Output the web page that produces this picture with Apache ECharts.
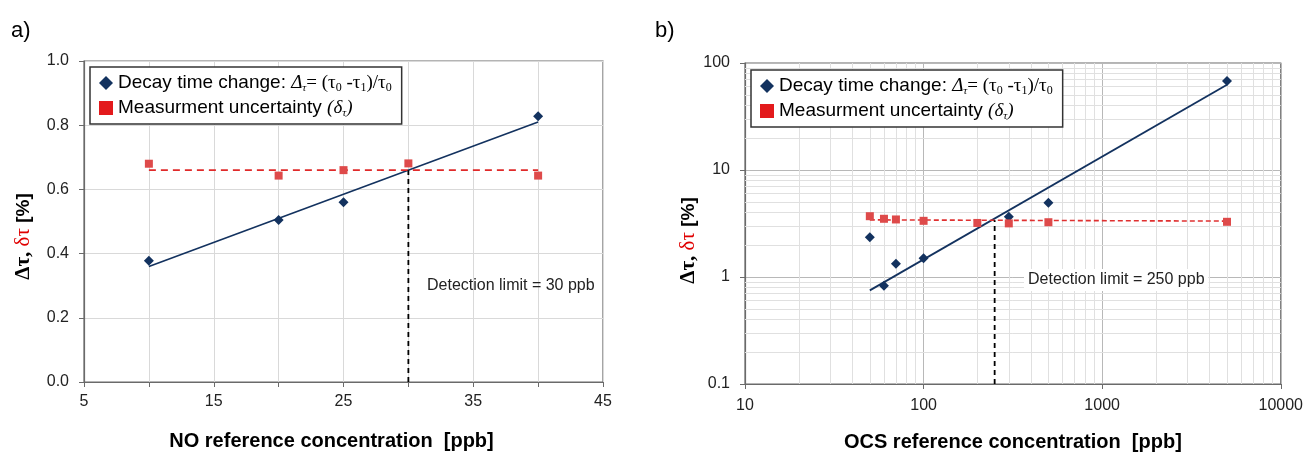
<!DOCTYPE html>
<html><head><meta charset="utf-8">
<script src="https://cdn.jsdelivr.net/npm/echarts@6/dist/echarts.min.js"></script>
<style>html,body{margin:0;padding:0;background:#fff}#c{width:1306px;height:457px}</style>
</head><body><div id="c"></div>
<script>
// ---------- data: panel a) NO ----------
const noDecayConc = [10, 20, 25, 40];
const noDecay = [0.378, 0.505, 0.56, 0.828];
const noUncConc = [10, 20, 25, 30, 40];
const noUnc = [0.68, 0.643, 0.66, 0.681, 0.643];
const noFitConc = [10, 40];
const noFitDecay = [0.36, 0.81];
const noUncMeanConc = [10, 40];
const noUncMean = [0.66, 0.66];
const noLimitConc = [30, 30];
const noLimitLevel = [0, 0.66];
const noXTicks = [5, 15, 25, 35, 45];

// ---------- data: panel b) OCS ----------
const ocsDecayConc = [50, 60, 70, 100, 300, 500, 5000];
const ocsDecay = [2.35, 0.83, 1.33, 1.5, 3.65, 4.95, 68];
const ocsUncConc = [50, 60, 70, 100, 200, 300, 500, 5000];
const ocsUnc = [3.7, 3.5, 3.45, 3.35, 3.2, 3.17, 3.25, 3.28];
const ocsFitConc = [50, 5000];
const ocsFitDecay = [0.75, 62.5];
const ocsUncMeanConc = [50, 5000];
const ocsUncMean = [3.42, 3.33];
const ocsLimitConc = [250, 250];
const ocsLimitLevel = [0.1, 3.4];
const ocsMinorX = [20,30,40,50,60,70,80,90,200,300,400,500,600,700,800,900,2000,3000,4000,5000,6000,7000,8000,9000];
const ocsMinorY = [0.2,0.3,0.4,0.5,0.6,0.7,0.8,0.9,2,3,4,5,6,7,8,9,20,30,40,50,60,70,80,90];

const zip = (xs, ys) => xs.map((x, i) => [x, ys[i]]);

const SANS = "'Liberation Sans', Arial, sans-serif";
const SERIF = "'Liberation Serif', 'Times New Roman', serif";
const NAVY = '#13325f';
const RED = '#de4a4a';
const LEGRED = '#e31a1c';
const FRAME = '#6a6a6a';
const GRID = '#d9d9d9';

const chart = echarts.init(document.getElementById('c'), null, {renderer: 'canvas'});

const legendRich = {
  m: {fontFamily: SERIF, fontStyle: 'italic', fontSize: 19, color: '#000'},
  ms: {fontFamily: SERIF, fontStyle: 'italic', fontSize: 11, color: '#000', verticalAlign: 'bottom', lineHeight: 22},
  s: {fontFamily: SERIF, fontSize: 19, color: '#000'},
  sb: {fontFamily: SERIF, fontSize: 12, color: '#000', verticalAlign: 'bottom', lineHeight: 22}
};
function legendFmt(name) {
  if (name === 'Decay time change') {
    return 'Decay time change: {m|Δ}{ms|τ}{s|= (τ}{sb|0}{s| -τ}{sb|1}{s|)/τ}{sb|0}';
  }
  return 'Measurment uncertainty {m|(δ}{ms|τ}{m|)}';
}
function makeLegend(left, top) {
  return {
    left: left, top: top, orient: 'vertical', z: 8,
    selectedMode: false,
    backgroundColor: '#fff',
    borderColor: '#333', borderWidth: 1.5,
    padding: [5, 10, 5, 9],
    itemGap: 3, itemWidth: 14, itemHeight: 14,
    textStyle: {fontFamily: SANS, fontSize: 19, color: '#000', rich: legendRich, lineHeight: 22},
    formatter: legendFmt,
    data: [
      {name: 'Decay time change', icon: 'diamond', itemStyle: {color: NAVY, opacity: 1}},
      {name: 'Measurment uncertainty', icon: 'rect', itemStyle: {color: LEGRED, opacity: 1}}
    ]
  };
}
const yNameRich = {
  a: {fontFamily: SERIF, fontWeight: 'bold', fontSize: 21, color: '#000'},
  r: {fontFamily: SERIF, fontSize: 21, color: '#e00000'},
  p: {fontFamily: SANS, fontWeight: 'bold', fontSize: 19, color: '#000'}
};
const yName = '{a|Δτ, }{r|δτ}{p| [%]}';

const option = {
  animation: false,
  backgroundColor: '#fff',
  graphic: [
    {type: 'text', left: 11, top: 20, style: {text: 'a)', fontFamily: SANS, fontSize: 22, fill: '#000'}},
    {type: 'text', left: 655, top: 20, style: {text: 'b)', fontFamily: SANS, fontSize: 22, fill: '#000'}},
    {type: 'text', left: 427, top: 278, z: 10, style: {text: 'Detection limit = 30 ppb', fontFamily: SANS, fontSize: 16, fill: '#222'}},
    {type: 'text', left: 1024, top: 269, z: 10, style: {text: 'Detection limit = 250 ppb', fontFamily: SANS, fontSize: 16, fill: '#222', backgroundColor: '#fff', padding: [3, 4, 3, 4]}}
  ],
  legend: [makeLegend(90, 67), makeLegend(751, 70)],
  grid: [
    {left: 84, right: 703, top: 61, bottom: 75, show: true, borderColor: FRAME, borderWidth: 1.2, backgroundColor: '#fff'},
    {left: 745, right: 25, top: 63, bottom: 72, show: true, borderColor: FRAME, borderWidth: 1.2, backgroundColor: '#fff'}
  ],
  xAxis: [
    {
      type: 'value', gridIndex: 0, min: 5, max: 45, interval: 5,
      axisLine: {show: true, lineStyle: {color: FRAME, width: 1.2}},
      axisTick: {show: true, length: 5, lineStyle: {color: FRAME}},
      axisLabel: {fontFamily: SANS, fontSize: 16, color: '#222', margin: 12,
        formatter: v => noXTicks.indexOf(v) >= 0 ? String(v) : ''},
      splitLine: {show: true, lineStyle: {color: GRID, width: 1}},
      name: 'NO reference concentration  [ppb]', nameLocation: 'middle', nameGap: 49,
      nameTextStyle: {fontFamily: SANS, fontWeight: 'bold', fontSize: 20, color: '#000', padding: [0, 24, 0, 0]}
    },
    {
      type: 'log', gridIndex: 1, min: 10, max: 10000, logBase: 10,
      axisLine: {show: true, lineStyle: {color: FRAME, width: 1.2}},
      axisTick: {show: true, length: 5, lineStyle: {color: FRAME}},
      axisLabel: {fontFamily: SANS, fontSize: 16, color: '#222', margin: 14,
        formatter: v => String(Math.round(v))},
      splitLine: {show: true, lineStyle: {color: '#b8b8b8', width: 1}},
      name: 'OCS reference concentration  [ppb]', nameLocation: 'middle', nameGap: 48,
      nameTextStyle: {fontFamily: SANS, fontWeight: 'bold', fontSize: 20, color: '#000'}
    }
  ],
  yAxis: [
    {
      type: 'value', gridIndex: 0, min: 0, max: 1, interval: 0.2,
      axisLine: {show: true, lineStyle: {color: FRAME, width: 1.2}},
      axisTick: {show: true, length: 5, lineStyle: {color: FRAME}},
      axisLabel: {fontFamily: SANS, fontSize: 16, color: '#222', margin: 15, formatter: v => v.toFixed(1)},
      splitLine: {show: true, lineStyle: {color: GRID, width: 1}},
      name: yName, nameLocation: 'middle', nameRotate: 90, nameGap: 50,
      nameTextStyle: {rich: yNameRich, padding: [0, 30, 0, 0]}
    },
    {
      type: 'log', gridIndex: 1, min: 0.1, max: 100, logBase: 10,
      axisLine: {show: true, lineStyle: {color: FRAME, width: 1.2}},
      axisTick: {show: true, length: 5, lineStyle: {color: FRAME}},
      axisLabel: {fontFamily: SANS, fontSize: 16, color: '#222', margin: 15,
        formatter: v => String(+v.toPrecision(3))},
      splitLine: {show: true, lineStyle: {color: '#b8b8b8', width: 1}},
      name: yName, nameLocation: 'middle', nameRotate: 90, nameGap: 38,
      nameTextStyle: {rich: yNameRich, padding: [0, 34, 0, 0]}
    }
  ],
  series: [
    // minor log grid for panel b
    {
      type: 'line', name: 'minorGrid', xAxisIndex: 1, yAxisIndex: 1, data: [], z: 1, silent: true,
      markLine: {
        silent: true, symbol: ['none', 'none'], animation: false, z: 1,
        label: {show: false},
        lineStyle: {color: '#e0e0e0', type: 'solid', width: 1},
        emphasis: {disabled: true},
        data: ocsMinorX.map(v => ({xAxis: v})).concat(ocsMinorY.map(v => ({yAxis: v})))
      }
    },
    // panel a
    {type: 'line', name: 'fitA', xAxisIndex: 0, yAxisIndex: 0, data: zip(noFitConc, noFitDecay),
      symbol: 'none', lineStyle: {color: NAVY, width: 1.6}, z: 3, silent: true},
    {type: 'line', name: 'uncA', xAxisIndex: 0, yAxisIndex: 0, data: zip(noUncMeanConc, noUncMean),
      symbol: 'none', lineStyle: {color: '#e02a2a', width: 1.8, type: [7, 5]}, z: 3, silent: true},
    {type: 'line', name: 'limA', xAxisIndex: 0, yAxisIndex: 0, data: zip(noLimitConc, noLimitLevel),
      symbol: 'none', lineStyle: {color: '#000', width: 1.8, type: [5, 4]}, z: 3, silent: true},
    {type: 'scatter', name: 'Decay time change', xAxisIndex: 0, yAxisIndex: 0, data: zip(noDecayConc, noDecay),
      symbol: 'diamond', symbolSize: 10, itemStyle: {color: NAVY, opacity: 1}, z: 5},
    {type: 'scatter', name: 'Measurment uncertainty', xAxisIndex: 0, yAxisIndex: 0, data: zip(noUncConc, noUnc),
      symbol: 'rect', symbolSize: 8, itemStyle: {color: RED, opacity: 1}, z: 5},
    // panel b
    {type: 'line', name: 'fitB', xAxisIndex: 1, yAxisIndex: 1, data: zip(ocsFitConc, ocsFitDecay),
      symbol: 'none', lineStyle: {color: NAVY, width: 1.8}, z: 3, silent: true},
    {type: 'line', name: 'uncB', xAxisIndex: 1, yAxisIndex: 1, data: zip(ocsUncMeanConc, ocsUncMean),
      symbol: 'none', lineStyle: {color: '#e03030', width: 1.6, type: [5, 3]}, z: 3, silent: true},
    {type: 'line', name: 'limB', xAxisIndex: 1, yAxisIndex: 1, data: zip(ocsLimitConc, ocsLimitLevel),
      symbol: 'none', lineStyle: {color: '#000', width: 1.8, type: [5, 4]}, z: 3, silent: true},
    {type: 'scatter', name: 'Decay time change', xAxisIndex: 1, yAxisIndex: 1, data: zip(ocsDecayConc, ocsDecay),
      symbol: 'diamond', symbolSize: 10, itemStyle: {color: NAVY, opacity: 1}, z: 5},
    {type: 'scatter', name: 'Measurment uncertainty', xAxisIndex: 1, yAxisIndex: 1, data: zip(ocsUncConc, ocsUnc),
      symbol: 'rect', symbolSize: 8, itemStyle: {color: RED, opacity: 1}, z: 5}
  ]
};
chart.setOption(option);
</script>
</body></html>
